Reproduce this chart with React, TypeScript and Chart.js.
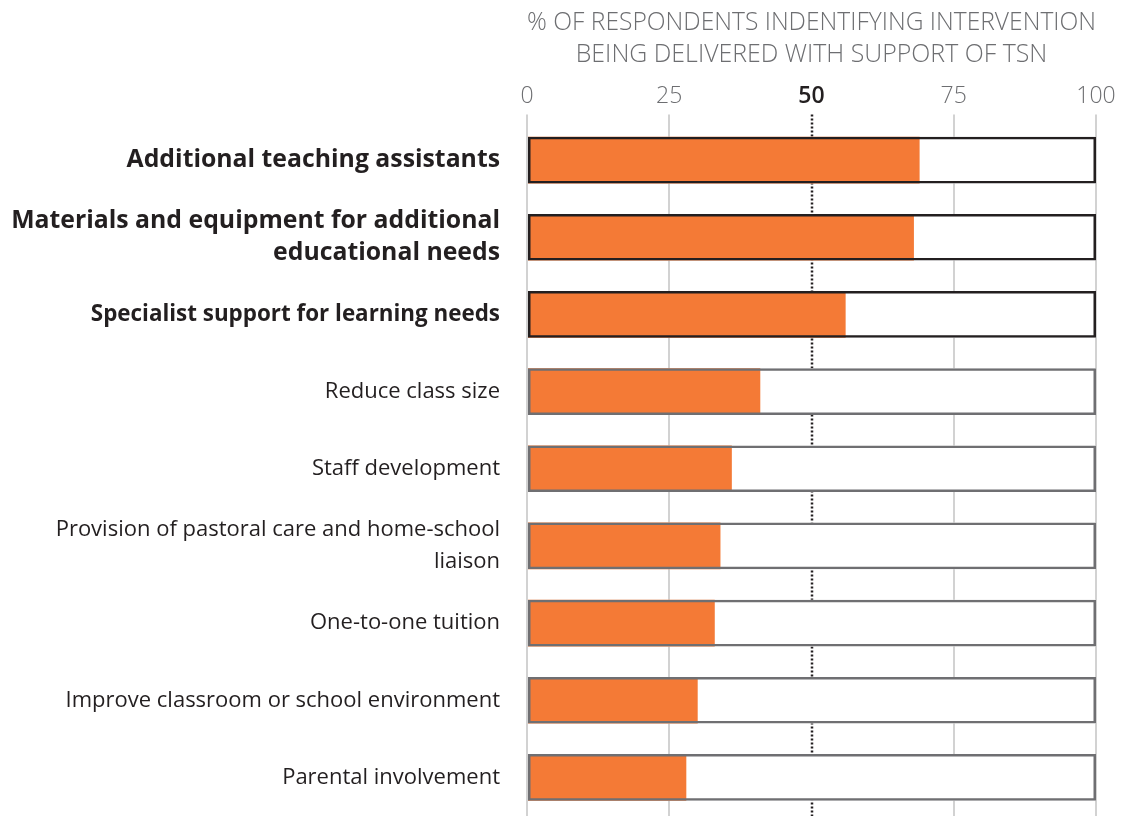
import React, { useEffect, useRef } from "react";
import { Chart, registerables } from "chart.js";

Chart.register(...registerables);

const categories: (string | string[])[] = [
  "Additional teaching assistants",
  ["Materials and equipment for additional", "educational needs"],
  "Specialist support for learning needs",
  "Reduce class size",
  "Staff development",
  ["Provision of pastoral care and home-school", "liaison"],
  "One-to-one tuition",
  "Improve classroom or school environment",
  "Parental involvement",
];
const supportValues = [69, 68, 56, 41, 36, 34, 33, 30, 28];
const fullValues = [100, 100, 100, 100, 100, 100, 100, 100, 100];
const highlighted = [true, true, true, false, false, false, false, false, false];
const labelSizes = [24.8, 24.8, 22.4, 22, 22, 22, 22, 22, 22];
const axisTitle = [
  "% OF RESPONDENTS INDENTIFYING INTERVENTION",
  "BEING DELIVERED WITH SUPPORT OF TSN",
];
const midValue = 50;

const FONT = "'Open Sans', Lato, sans-serif";
const ORANGE = "#f47a36";
const DARK = "#231f20";
const GREYBORDER = "#6f6f72";
const GRID = "#d2d2d2";

const midLinePlugin = {
  id: "midLine",
  beforeDatasetsDraw(chart: any) {
    const xs = chart.scales.x;
    const x = Math.round(xs.getPixelForValue(midValue));
    const { top, bottom } = chart.chartArea;
    const ctx = chart.ctx;
    ctx.save();
    ctx.strokeStyle = DARK;
    ctx.lineWidth = 2.5;
    ctx.setLineDash([2, 2]);
    ctx.beginPath();
    ctx.moveTo(x, top - 7);
    ctx.lineTo(x, bottom);
    ctx.stroke();
    ctx.restore();
  },
};

export default function App() {
  const ref = useRef<HTMLCanvasElement | null>(null);
  useEffect(() => {
    if (!ref.current) return;
    const common = { grouped: false, categoryPercentage: 1, barPercentage: 0.605 };
    const chart = new Chart(ref.current, {
      type: "bar",
      data: {
        labels: categories,
        datasets: [
          {
            label: "frame",
            data: fullValues,
            backgroundColor: "rgba(0,0,0,0)",
            borderColor: highlighted.map((h) => (h ? DARK : GREYBORDER)),
            borderWidth: 2.5,
            borderSkipped: false,
            ...common,
          },
          {
            label: "support",
            data: supportValues,
            backgroundColor: ORANGE,
            borderWidth: 0,
            ...common,
          },
          {
            label: "background",
            data: fullValues,
            backgroundColor: "#ffffff",
            borderWidth: 0,
            ...common,
          },
        ],
      } as any,
      options: {
        indexAxis: "y",
        animation: false,
        responsive: false,
        maintainAspectRatio: false,
        layout: { padding: { left: 0, right: 28, top: 0, bottom: 0 } },
        plugins: {
          legend: { display: false },
          tooltip: { enabled: false },
          title: { display: false },
        },
        scales: {
          x: {
            type: "linear",
            position: "top",
            min: 0,
            max: 100,
            ticks: {
              stepSize: 25,
              padding: 4,
              color: (c: any) => (c.tick && c.tick.value === midValue ? DARK : "#6d6e71"),
              font: (c: any) => ({
                family: FONT,
                size: 23,
                weight: c.tick && c.tick.value === midValue ? "600" : "300",
              }),
            },
            grid: {
              color: (c: any) => (c.tick && c.tick.value === midValue ? "rgba(0,0,0,0)" : GRID),
              tickColor: (c: any) => (c.tick && c.tick.value === midValue ? "rgba(0,0,0,0)" : GRID),
              lineWidth: 2,
              tickLength: 7,
            },
            border: { display: false },
            title: {
              display: true,
              text: axisTitle,
              color: "#6d6e71",
              font: { family: FONT, size: 24.9, weight: "300", lineHeight: 1.29 },
              padding: { top: 7, bottom: 8 },
            },
            afterFit: (s: any) => {
              s.height = 121.5;
            },
          },
          y: {
            type: "category",
            grid: { display: false, drawTicks: false },
            border: { display: false },
            ticks: {
              padding: 27,
              color: DARK,
              autoSkip: false,
              font: (c: any) => ({
                family: FONT,
                size: labelSizes[c.index],
                lineHeight: 32 / labelSizes[c.index],
                weight: highlighted[c.index] ? "bold" : "normal",
              }),
            },
            afterFit: (s: any) => {
              s.width = 527;
              s.paddingTop = 0;
              s.paddingBottom = 0;
            },
          },
        },
      } as any,
      plugins: [midLinePlugin],
    });
    return () => chart.destroy();
  }, []);
  return (
    <div style={{ position: "absolute", left: 0, top: 0, width: 1124, height: 816, background: "#fff" }}>
      <canvas ref={ref} width={1124} height={816} style={{ display: "block" }} />
    </div>
  );
}
